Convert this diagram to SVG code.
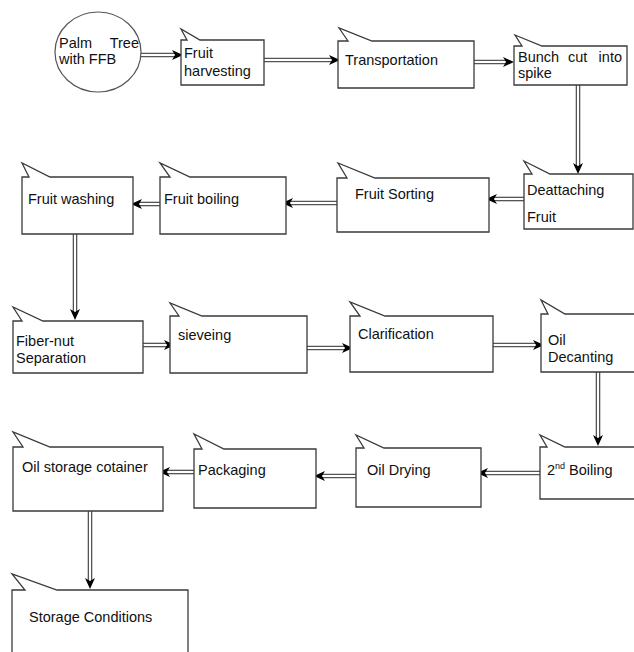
<svg xmlns="http://www.w3.org/2000/svg" width="634" height="652" viewBox="0 0 634 652">
<style>
.bx{fill:#fff;stroke:#3a3a3a;stroke-width:1.3}
.t{font-family:"Liberation Sans",Arial,sans-serif;font-size:14.5px;fill:#111}
.e{text-anchor:end}
.sup{font-size:9px}
.o{fill:none;stroke:#555;stroke-width:4.6}
.i{fill:none;stroke:#fff;stroke-width:2}
</style>
<defs>
<marker id="ah" markerUnits="userSpaceOnUse" markerWidth="12" markerHeight="10" refX="4" refY="5" orient="auto">
<path d="M0,0 L11,5 L0,10 L3,5 Z" fill="#000"/>
</marker>
</defs>
<rect width="634" height="652" fill="#fff"/>

<g id="connectors">
<g><path class="o" d="M141,55 H176"/><path class="i" d="M141,55 H176" marker-end="url(#ah)"/></g>
<g><path class="o" d="M264,60 H333"/><path class="i" d="M264,60 H333" marker-end="url(#ah)"/></g>
<g><path class="o" d="M473,62 H507"/><path class="i" d="M473,62 H507" marker-end="url(#ah)"/></g>
<g><path class="o" d="M578,85 V167"/><path class="i" d="M578,85 V167" marker-end="url(#ah)"/></g>
<g><path class="o" d="M524,199 H493"/><path class="i" d="M524,199 H493" marker-end="url(#ah)"/></g>
<g><path class="o" d="M337,203 H289"/><path class="i" d="M337,203 H289" marker-end="url(#ah)"/></g>
<g><path class="o" d="M160,204 H138"/><path class="i" d="M160,204 H138" marker-end="url(#ah)"/></g>
<g><path class="o" d="M75,234 V313"/><path class="i" d="M75,234 V313" marker-end="url(#ah)"/></g>
<g><path class="o" d="M143,345 H168"/><path class="i" d="M143,345 H168" marker-end="url(#ah)"/></g>
<g><path class="o" d="M307,348 H346"/><path class="i" d="M307,348 H346" marker-end="url(#ah)"/></g>
<g><path class="o" d="M493,345 H537"/><path class="i" d="M493,345 H537" marker-end="url(#ah)"/></g>
<g><path class="o" d="M598,372 V439"/><path class="i" d="M598,372 V439" marker-end="url(#ah)"/></g>
<g><path class="o" d="M540,473 H484"/><path class="i" d="M540,473 H484" marker-end="url(#ah)"/></g>
<g><path class="o" d="M356,476 H321"/><path class="i" d="M356,476 H321" marker-end="url(#ah)"/></g>
<g><path class="o" d="M194,472 H166"/><path class="i" d="M194,472 H166" marker-end="url(#ah)"/></g>
<g><path class="o" d="M90,511 V582"/><path class="i" d="M90,511 V582" marker-end="url(#ah)"/></g>
</g>

<g id="palm-tree">
<ellipse cx="98" cy="52" rx="43" ry="40" fill="#fff" stroke="#555" stroke-width="1.2"/>
<text class="t" x="59" y="48">Palm</text>
<text class="t e" x="139" y="48">Tree</text>
<text class="t" x="59" y="64">with FFB</text>
</g>

<g id="fruit-harvesting">
<path class="bx" d="M181,40 H187 L181,29 L200,40 H264 V85 H181 Z"/>
<text class="t" x="184" y="58">Fruit</text>
<text class="t" x="184" y="76">harvesting</text>
</g>

<g id="transportation">
<path class="bx" d="M338,41 H348 L339,28 L372,41 H474 V88 H338 Z"/>
<text class="t" x="345" y="65">Transportation</text>
</g>

<g id="bunch-cut">
<path class="bx" d="M514,46 H522 L515,35 L542,46 H627 V85 H514 Z"/>
<text class="t" x="518" y="62">Bunch</text>
<text class="t" x="568" y="62">cut</text>
<text class="t e" x="622" y="62">into</text>
<text class="t" x="518" y="78">spike</text>
</g>

<g id="deattaching">
<path class="bx" d="M524,174 H532 L524,161 L550,174 H633 V229 H524 Z"/>
<text class="t" x="527" y="195">Deattaching</text>
<text class="t" x="527" y="222">Fruit</text>
</g>

<g id="fruit-sorting">
<path class="bx" d="M337,178 H347 L338,163 L375,178 H489 V232 H337 Z"/>
<text class="t" x="355" y="199">Fruit Sorting</text>
</g>

<g id="fruit-boiling">
<path class="bx" d="M160,177 H170 L160,163 L190,177 H286 V234 H160 Z"/>
<text class="t" x="164" y="204">Fruit boiling</text>
</g>

<g id="fruit-washing">
<path class="bx" d="M22,177 H29 L22,163 L50,177 H133 V234 H22 Z"/>
<text class="t" x="28" y="204">Fruit washing</text>
</g>

<g id="fiber-nut">
<path class="bx" d="M13,321 H22 L13,307 L43,321 H143 V373 H13 Z"/>
<text class="t" x="16" y="346">Fiber-nut</text>
<text class="t" x="16" y="363">Separation</text>
</g>

<g id="sieveing">
<path class="bx" d="M170,316 H179 L170,303 L202,316 H307 V373 H170 Z"/>
<text class="t" x="178" y="340">sieveing</text>
</g>

<g id="clarification">
<path class="bx" d="M350,316 H360 L350,302 L385,316 H493 V372 H350 Z"/>
<text class="t" x="358" y="339">Clarification</text>
</g>

<g id="oil-decanting">
<path class="bx" d="M541,314 H548 L541,300 L565,314 H640 V372 H541 Z"/>
<text class="t" x="548" y="345">Oil</text>
<text class="t" x="548" y="362">Decanting</text>
</g>

<g id="second-boiling">
<path class="bx" d="M540,447 H547 L540,435 L565,447 H640 V499 H540 Z"/>
<text class="t" x="547" y="475">2<tspan class="sup" dy="-6">nd</tspan><tspan dy="6"> Boiling</tspan></text>
</g>

<g id="oil-drying">
<path class="bx" d="M356,448 H364 L356,435 L384,448 H481 V507 H356 Z"/>
<text class="t" x="367" y="475">Oil Drying</text>
</g>

<g id="packaging">
<path class="bx" d="M194,449 H202 L194,434 L224,449 H316 V508 H194 Z"/>
<text class="t" x="198" y="475">Packaging</text>
</g>

<g id="oil-storage">
<path class="bx" d="M13,447 H23 L13,432 L50,447 H163 V511 H13 Z"/>
<text class="t" x="22" y="472">Oil storage cotainer</text>
</g>

<g id="storage-conditions">
<path class="bx" d="M12,590 H25 L12,574 L57,590 H188 V660 H12 Z"/>
<text class="t" x="29" y="622">Storage Conditions</text>
</g>
</svg>
